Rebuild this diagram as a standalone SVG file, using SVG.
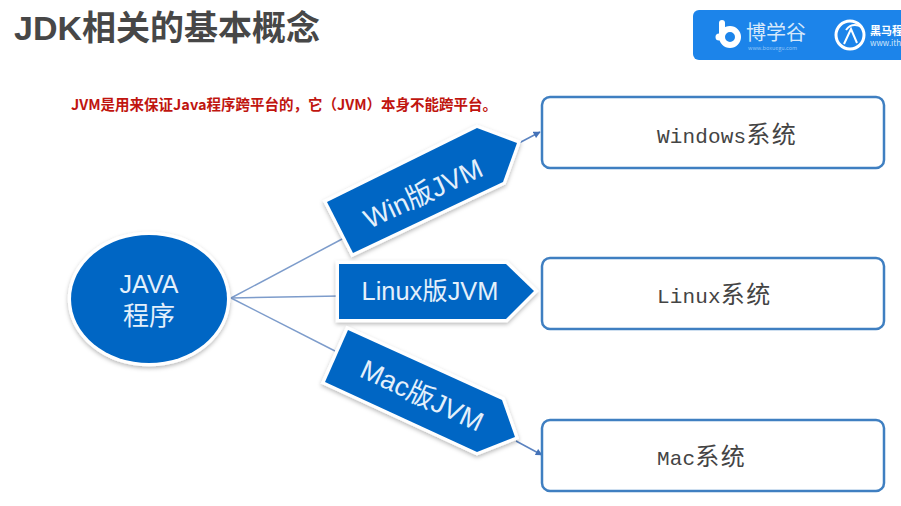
<svg xmlns="http://www.w3.org/2000/svg" width="901" height="506" viewBox="0 0 901 506">
<defs>
<filter id="sh" x="-20%" y="-20%" width="140%" height="140%"><feDropShadow dx="0" dy="2" stdDeviation="2" flood-color="#000" flood-opacity="0.28"/></filter>
<marker id="arr" viewBox="0 0 10 10" refX="9" refY="5" markerWidth="8" markerHeight="7" orient="auto" markerUnits="userSpaceOnUse"><path d="M0 0L10 5L0 10Z" fill="#4472b8"/></marker>
</defs>
<style>
text{font-family:"Noto Sans CJK SC","Liberation Sans",sans-serif}
.blue{fill:#0066c4;stroke:#fff;stroke-width:6.5;paint-order:stroke;filter:url(#sh);stroke-linejoin:miter}
.lab{fill:#e4f0fb;font-size:27px;text-anchor:middle;font-family:"Liberation Sans","Noto Sans CJK SC",sans-serif}
.sys{fill:#fff;stroke:#3f7fc1;stroke-width:2.5}
.st{fill:#444;font-size:24px;letter-spacing:1.5px}
.st tspan{font-family:"Liberation Mono",monospace;font-size:21px;letter-spacing:.15px}
.line{fill:none;stroke:#7d9ccb;stroke-width:1.5}
.arrow{stroke:#5b83c0}
</style>
<rect width="901" height="506" fill="#fff"/>
<text id="title" x="14" y="40" font-size="34" font-weight="700" fill="#474747" style="font-family:'Liberation Sans','Noto Sans CJK SC',sans-serif">JDK相关的基本概念</text>
<text id="note" x="71" y="110" font-size="14.5" font-weight="700" fill="#c0150f">JVM是用来保证Java程序跨平台的，它（JVM）本身不能跨平台。</text>
<g id="logo">
<rect x="693" y="10" width="230" height="50" rx="6" fill="#1c84ea"/>
<circle cx="730" cy="37" r="8" fill="none" stroke="#fff" stroke-width="6"/>
<path d="M722 23V37" stroke="#fff" stroke-width="6" stroke-linecap="round"/>
<circle cx="719" cy="37" r="3.5" fill="#fff"/>
<text x="746" y="40" font-size="20" fill="#d5e8fb">博学谷</text>
<text x="748" y="50" font-size="5.5" fill="#8fc2f5">www.boxuegu.com</text>
<circle cx="850" cy="35" r="14" fill="none" stroke="#fff" stroke-width="3"/>
<path d="M844 44L851 29L857 43M846 30Q852 22 862 27" fill="none" stroke="#fff" stroke-width="2"/>
<text x="870" y="35" font-size="11" font-weight="700" fill="#fff">黑马程序员</text>
<text x="870" y="46" font-size="8" fill="#d5e8fb">www.itheima.com</text>
</g>
<g id="connectors">
<path class="line" d="M231 298L344 238"/>
<path class="line" d="M231 298L340 296"/>
<path class="line" d="M231 298L335 351"/>
<path class="line arrow" d="M519 143L540 132" marker-end="url(#arr)"/>
<path class="line arrow" d="M516 441L542 455" marker-end="url(#arr)"/>
</g>
<g id="java"><ellipse class="blue" cx="149" cy="299" rx="78" ry="64"/>
<text class="lab" x="149" y="293" style="font-size:25px">JAVA</text><text class="lab" x="149" y="325" style="font-size:26px">程序</text></g>
<g id="win"><path class="blue" d="M327 202L477 128L517 143L503 182L353 253Z"/>
<text class="lab" transform="translate(427 202) rotate(-25)">Win版JVM</text></g>
<g id="linux"><path class="blue" d="M339 264H506L534 291L506 319H339Z"/>
<text class="lab" x="430" y="300" style="font-size:25.4px">Linux版JVM</text></g>
<g id="mac"><path class="blue" d="M348 330L502 400L515 437L477 452L325 382Z"/>
<text class="lab" transform="translate(418 404) rotate(25)">Mac版JVM</text></g>
<g id="windows-sys"><rect class="sys" x="542" y="97" width="342" height="71" rx="8"/><text class="st" x="657" y="143"><tspan>Windows</tspan>系统</text></g>
<g id="linux-sys"><rect class="sys" x="542" y="258" width="342" height="71" rx="8"/><text class="st" x="657" y="303"><tspan>Linux</tspan>系统</text></g>
<g id="mac-sys"><rect class="sys" x="542" y="420" width="342" height="71" rx="8"/><text class="st" x="657" y="465"><tspan>Mac</tspan>系统</text></g>
</svg>
